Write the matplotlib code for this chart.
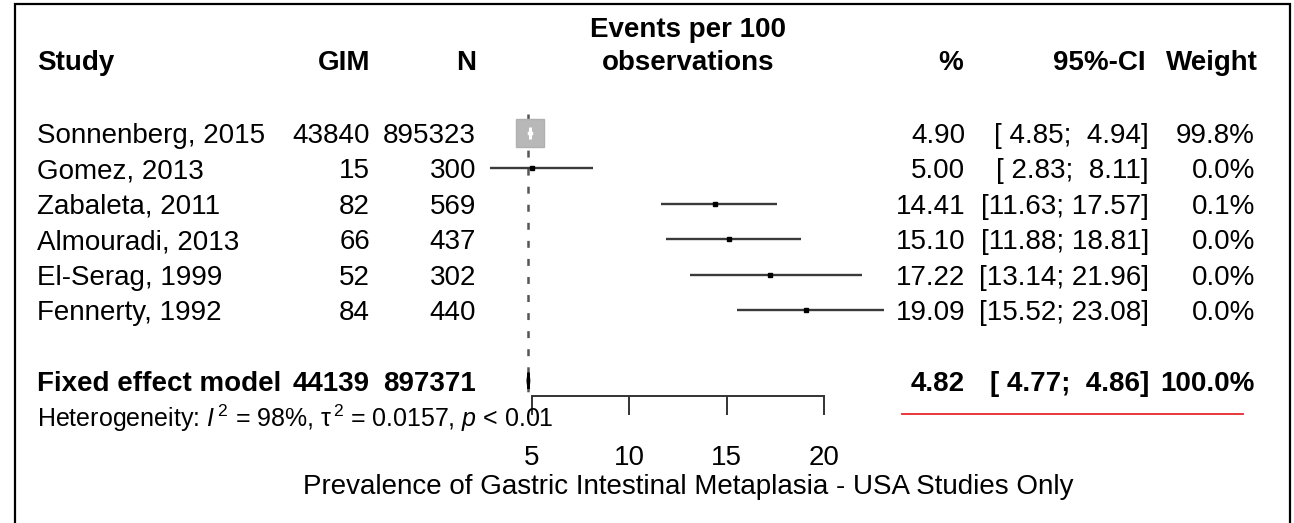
import matplotlib
matplotlib.use("Agg")
import matplotlib.pyplot as plt
import matplotlib.transforms as mtransforms
from matplotlib.lines import Line2D

plt.rcParams['font.family'] = ['Liberation Sans', 'DejaVu Sans']
plt.rcParams['mathtext.fontset'] = 'custom'
plt.rcParams['mathtext.rm'] = 'Liberation Sans'
plt.rcParams['mathtext.it'] = 'Liberation Sans:italic'
plt.rcParams['lines.scale_dashes'] = False

# ---------------- data ----------------
studies = ["Sonnenberg, 2015", "Gomez, 2013", "Zabaleta, 2011",
           "Almouradi, 2013", "El-Serag, 1999", "Fennerty, 1992"]
gim = [43840, 15, 82, 66, 52, 84]
n_obs = [895323, 300, 569, 437, 302, 440]
est = [4.90, 5.00, 14.41, 15.10, 17.22, 19.09]
ci_lo = [4.85, 2.83, 11.63, 11.88, 13.14, 15.52]
ci_hi = [4.94, 8.11, 17.57, 18.81, 21.96, 23.08]
weight = [99.8, 0.0, 0.1, 0.0, 0.0, 0.0]

fixed_label = "Fixed effect model"
fixed_gim = 44139
fixed_n = 897371
fixed_est = 4.82
fixed_lo = 4.77
fixed_hi = 4.86
fixed_weight = 100.0

heterogeneity = r"Heterogeneity: $\mathit{I}^{\,2}$ = 98%, τ$^{\,2}$ = 0.0157, $\mathit{p}$ < 0.01"
xticks = [5, 10, 15, 20]
xlabel = "Prevalence of Gastric Intestinal Metaplasia - USA Studies Only"
headers = ["Study", "GIM", "N", "Events per 100\nobservations", "%", "95%-CI", "Weight"]

# ---------------- layout ----------------
W, H = 1294, 523
fig = plt.figure(figsize=(W / 100, H / 100), dpi=100)

ppu = (824 - 532) / 15.0          # pixels per unit on the x scale
row_px = 35.4                     # pixels per row
axis_px = 396                     # y pixel of the axis line
first_row_px = 133
ax = fig.add_axes([0, 1 - axis_px / H, 1, axis_px / H])
ax.set_xlim(5 - 532 / ppu, 5 + (W - 532) / ppu)
ax.set_ylim((axis_px - first_row_px) / row_px, -first_row_px / row_px)
ax.patch.set_alpha(0)
for s in ["top", "left", "right"]:
    ax.spines[s].set_visible(False)
ax.spines["bottom"].set_bounds(xticks[0], xticks[-1])
ax.spines["bottom"].set_linewidth(1.4)
ax.spines["bottom"].set_color("#333333")
ax.set_yticks([])
ax.set_xticks(xticks)
ax.set_xticklabels([str(t) for t in xticks])
ax.tick_params(axis="x", direction="out", length=14, width=1.4, color="#333333",
               pad=21, labelsize=20)

rows = list(range(len(studies)))
fixed_row = len(studies) + 1

# reference dashed line at pooled estimate
ax.plot([fixed_est, fixed_est], [-0.55, 7.35], color="#555555", lw=1.8,
        linestyle=(0, (5, 8)), zorder=1, solid_capstyle="butt")

# confidence intervals and squares
for i in rows:
    if weight[i] > 50:
        ax.plot(est[i], i, marker="s", markersize=20, color="#b8b8b8",
                markeredgecolor="#b0b0b0", zorder=3)
        ax.plot([ci_lo[i], ci_hi[i]], [i, i], color="white", lw=2.5, zorder=4)
        ax.plot(est[i], i, marker="|", markersize=8, markeredgewidth=2.2,
                color="white", zorder=4)
    else:
        ax.plot([ci_lo[i], ci_hi[i]], [i, i], color="#3a3a3a", lw=1.7, zorder=2,
                solid_capstyle="butt")
        ax.plot(est[i], i, marker="s", markersize=3.5, color="black", zorder=3)

# diamond for fixed effect
dh = 0.23
ax.fill([fixed_lo, fixed_est, fixed_hi, fixed_est],
        [fixed_row, fixed_row - dh, fixed_row, fixed_row + dh],
        facecolor="black", edgecolor="black", lw=1.6, zorder=3)

# ---------------- text columns ----------------
blend = mtransforms.blended_transform_factory(fig.transFigure, ax.transData)
fs = 20
def shift(pts):
    return blend + mtransforms.ScaledTranslation(0, -pts / 72.0, fig.dpi_scale_trans)
row_tr = shift(0.36 * fs)

def fx(px):
    return px / W

col_study, col_gim, col_n, col_pct, col_ci, col_w = 37, 370, 476, 965, 1149, 1255

def fmt_ci(lo, hi):
    f = lambda v: (" " if v < 10 else "") + f"{v:.2f}"
    return f"[{f(lo)}; {f(hi)}]"

for i in rows:
    ax.text(fx(col_study), i, studies[i], transform=row_tr, ha="left", va="baseline", fontsize=fs)
    ax.text(fx(col_gim), i, f"{gim[i]}", transform=row_tr, ha="right", va="baseline", fontsize=fs)
    ax.text(fx(col_n), i, f"{n_obs[i]}", transform=row_tr, ha="right", va="baseline", fontsize=fs)
    ax.text(fx(col_pct), i, f"{est[i]:.2f}", transform=row_tr, ha="right", va="baseline", fontsize=fs)
    ax.text(fx(col_ci), i, fmt_ci(ci_lo[i], ci_hi[i]), transform=row_tr, ha="right", va="baseline", fontsize=fs)
    ax.text(fx(col_w), i, f"{weight[i]:.1f}%", transform=row_tr, ha="right", va="baseline", fontsize=fs)

r = fixed_row
kw = dict(transform=row_tr, va="baseline", fontsize=fs, fontweight="bold")
ax.text(fx(col_study), r, fixed_label, ha="left", **kw)
ax.text(fx(col_gim), r, f"{fixed_gim}", ha="right", **kw)
ax.text(fx(col_n), r, f"{fixed_n}", ha="right", **kw)
ax.text(fx(col_pct), r, f"{fixed_est:.2f}", ha="right", **kw)
ax.text(fx(col_ci), r, fmt_ci(fixed_lo, fixed_hi), ha="right", **kw)
ax.text(fx(col_w), r, f"{fixed_weight:.1f}%", ha="right", **kw)

# heterogeneity
hfs = 18
ax.text(fx(col_study), (418.5 - first_row_px) / row_px, heterogeneity,
        transform=shift(0.36 * hfs), ha="left", va="baseline", fontsize=hfs, clip_on=False)

# headers (figure pixel positions)
def ftext(px, py, s, ha, **k):
    fig.text(px / W, 1 - py / H, s, ha=ha, va="center", fontsize=fs, fontweight="bold", **k)

ftext(col_study, 63, headers[0], "left")
ftext(370, 63, headers[1], "right")
ftext(476, 63, headers[2], "right")
ftext(688, 30, headers[3].split("\n")[0], "center")
ftext(688, 63, headers[3].split("\n")[1], "center")
ftext(963, 63, headers[4], "right")
ftext(1146, 63, headers[5], "right")
ftext(1258, 63, headers[6], "right")

# x label centred under forest region
fig.text(688 / W, 1 - 487 / H, xlabel, ha="center", va="center", fontsize=fs)

# decorations: open frame (left, top, right) and red underline
fl, fr, ft = 15 / W, 1290 / W, 1 - 4 / H
fig.add_artist(Line2D([fl, fl, fr, fr], [0, ft, ft, 0], transform=fig.transFigure,
                      color="black", lw=1.6, solid_joinstyle="miter"))
fig.add_artist(Line2D([902 / W, 1243 / W], [1 - 414 / H, 1 - 414 / H],
                      transform=fig.transFigure, color="#e8262a", lw=1.3))

fig.savefig("out.png", dpi=100)
